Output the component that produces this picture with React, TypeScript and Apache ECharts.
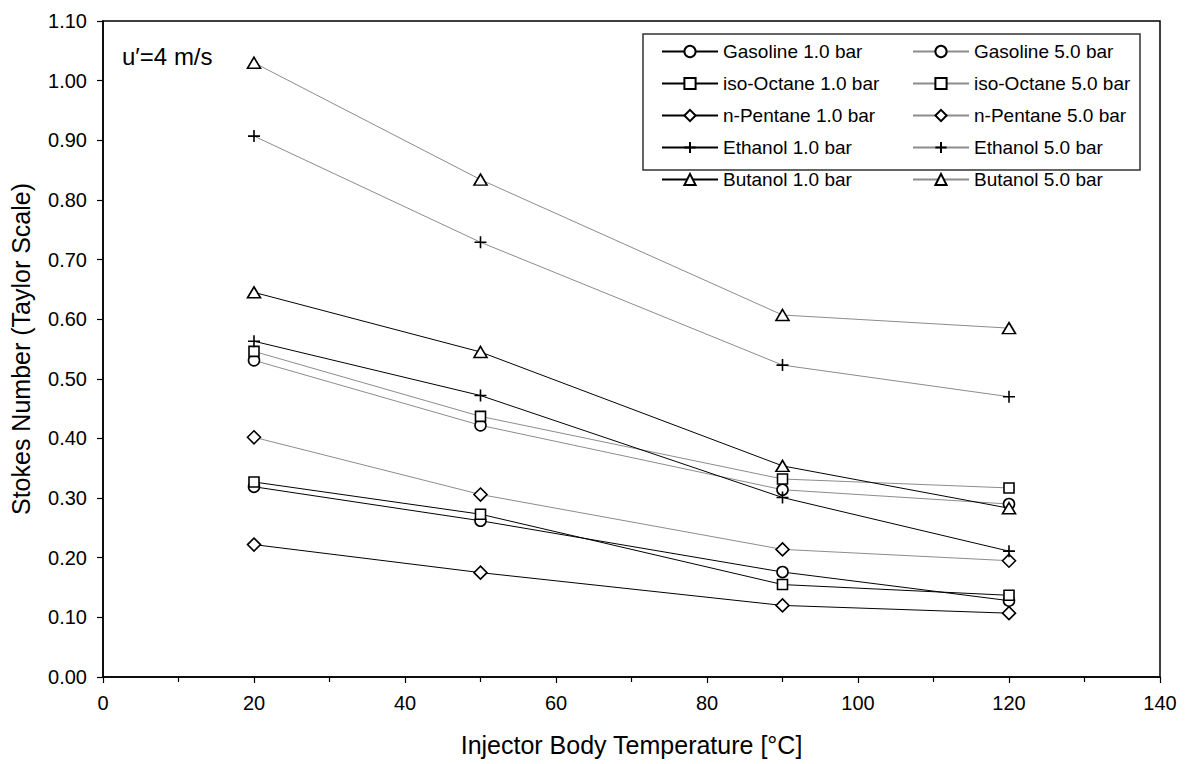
import React, { useEffect, useRef } from "react";
import * as echarts from "echarts";

const temperatures = [20, 50, 90, 120];

const gasoline1 = [0.319, 0.262, 0.176, 0.128];
const gasoline5 = [0.531, 0.422, 0.314, 0.29];
const isoOctane1 = [0.327, 0.273, 0.155, 0.137];
const isoOctane5 = [0.546, 0.437, 0.332, 0.317];
const nPentane1 = [0.222, 0.175, 0.12, 0.107];
const nPentane5 = [0.402, 0.306, 0.214, 0.195];
const ethanol1 = [0.563, 0.472, 0.301, 0.211];
const ethanol5 = [0.907, 0.729, 0.523, 0.47];
const butanol1 = [0.645, 0.545, 0.354, 0.283];
const butanol5 = [1.03, 0.834, 0.607, 0.585];

const xTicks = [0, 20, 40, 60, 80, 100, 120, 140];
const yTicks = [0, 0.1, 0.2, 0.3, 0.4, 0.5, 0.6, 0.7, 0.8, 0.9, 1.0, 1.1];

const FONT = "Liberation Sans, Arial, sans-serif";
const PLUS = "path://M0,5L10,5M5,0L5,10";

const seriesDefs = [
  { name: "Gasoline 1.0 bar", values: gasoline1, symbol: "circle", size: 11, gray: false },
  { name: "iso-Octane 1.0 bar", values: isoOctane1, symbol: "rect", size: 10, gray: false },
  { name: "n-Pentane 1.0 bar", values: nPentane1, symbol: "diamond", size: 13, gray: false },
  { name: "Ethanol 1.0 bar", values: ethanol1, symbol: PLUS, size: 12, gray: false },
  { name: "Butanol 1.0 bar", values: butanol1, symbol: "triangle", size: [13, 11], gray: false },
  { name: "Gasoline 5.0 bar", values: gasoline5, symbol: "circle", size: 11, gray: true },
  { name: "iso-Octane 5.0 bar", values: isoOctane5, symbol: "rect", size: 10, gray: true },
  { name: "n-Pentane 5.0 bar", values: nPentane5, symbol: "diamond", size: 13, gray: true },
  { name: "Ethanol 5.0 bar", values: ethanol5, symbol: PLUS, size: 12, gray: true },
  { name: "Butanol 5.0 bar", values: butanol5, symbol: "triangle", size: [13, 11], gray: true },
];

export default function App() {
  const ref = useRef<HTMLDivElement>(null);

  useEffect(() => {
    document.body.style.margin = "0";
    if (!ref.current) return;
    const chart = echarts.init(ref.current, undefined, { renderer: "svg" });

    const series = seriesDefs.map((s) => ({
      name: s.name,
      type: "line",
      data: temperatures.map((t, i) => [t, s.values[i]]),
      symbol: s.symbol,
      symbolSize: s.size,
      showAllSymbol: true,
      lineStyle: { color: s.gray ? "#8c8c8c" : "#000000", width: 1 },
      itemStyle: { color: "#ffffff", borderColor: "#000000", borderWidth: 1.6 },
      emphasis: { disabled: true },
      z: s.gray ? 2 : 3,
    }));

    const legendCommon = {
      orient: "vertical",
      itemWidth: 56,
      itemHeight: 14,
      itemGap: 13,
      textStyle: { fontFamily: FONT, fontSize: 19, color: "#000" },
      selectedMode: false,
      padding: 0,
    };

    chart.setOption({
      animation: false,
      backgroundColor: "#ffffff",
      textStyle: { fontFamily: FONT },
      grid: {
        left: 103,
        right: 26,
        top: 21,
        bottom: 87,
        show: true,
        borderColor: "#000",
        borderWidth: 1.5,
        backgroundColor: "transparent",
        containLabel: false,
      },
      legend: [
        { ...legendCommon, left: 661, top: 42, data: seriesDefs.filter((s) => !s.gray).map((s) => s.name) },
        { ...legendCommon, left: 912, top: 42, data: seriesDefs.filter((s) => s.gray).map((s) => s.name) },
      ],
      xAxis: {
        type: "value",
        min: xTicks[0],
        max: xTicks[xTicks.length - 1],
        interval: 20,
        name: "Injector Body Temperature [°C]",
        nameLocation: "middle",
        nameGap: 55,
        nameTextStyle: { fontFamily: FONT, fontSize: 25, color: "#000" },
        axisLine: { show: true, onZero: false, lineStyle: { color: "#000", width: 1.5 } },
        axisTick: { show: true, inside: false, length: 6, lineStyle: { color: "#000", width: 1.2 } },
        minorTick: { show: true, splitNumber: 2, length: 5, lineStyle: { color: "#000", width: 1.2 } },
        axisLabel: { fontFamily: FONT, fontSize: 20, color: "#000", margin: 16 },
        splitLine: { show: false },
      },
      yAxis: {
        type: "value",
        min: yTicks[0],
        max: yTicks[yTicks.length - 1],
        interval: 0.1,
        name: "Stokes Number (Taylor Scale)",
        nameLocation: "middle",
        nameGap: 70,
        nameRotate: 90,
        nameTextStyle: { fontFamily: FONT, fontSize: 25, color: "#000" },
        axisLine: { show: true, onZero: false, lineStyle: { color: "#000", width: 1.5 } },
        axisTick: { show: true, inside: false, length: 6, lineStyle: { color: "#000", width: 1.2 } },
        axisLabel: {
          fontFamily: FONT,
          fontSize: 20,
          color: "#000",
          margin: 16,
          formatter: (v: number) => v.toFixed(2),
        },
        splitLine: { show: false },
      },
      graphic: [
        {
          type: "rect",
          shape: { x: 643, y: 34, width: 497, height: 136 },
          style: { fill: "#fff", stroke: "#333", lineWidth: 1.5 },
          z: 0,
          zlevel: 0,
        },
        {
          type: "text",
          x: 122,
          y: 56,
          style: {
            text: "u′=4 m/s",
            fontFamily: FONT,
            fontSize: 24,
            fill: "#000",
            verticalAlign: "middle",
          },
        },
      ],
      series,
    });

    return () => chart.dispose();
  }, []);

  return (
    <div
      ref={ref}
      style={{ position: "fixed", left: 0, top: 0, width: 1186, height: 764 }}
    />
  );
}
